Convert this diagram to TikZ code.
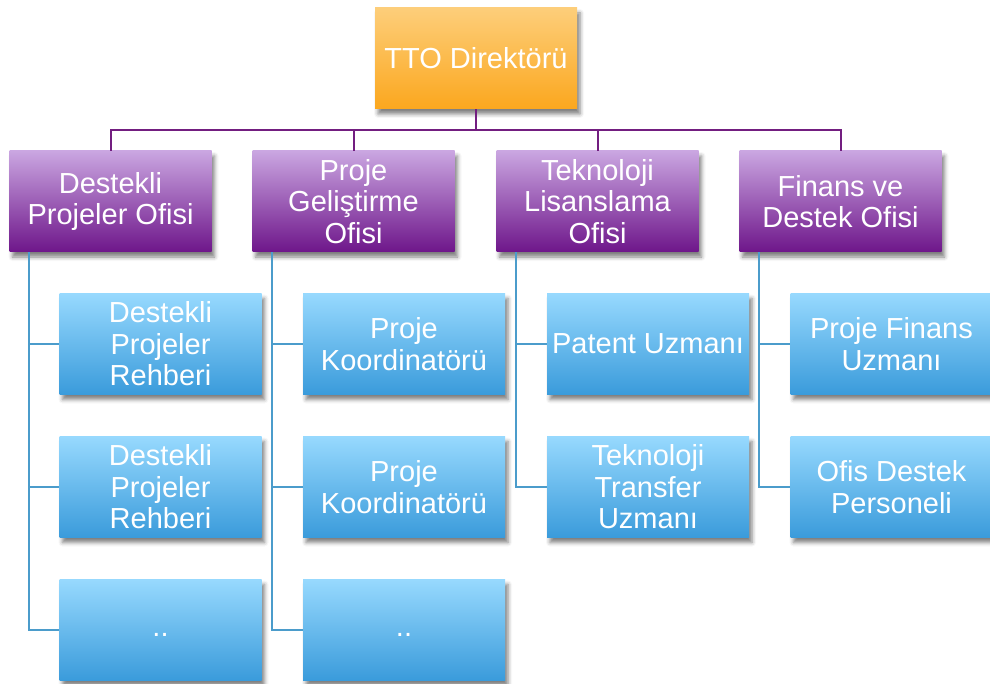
\documentclass[tikz,border=0pt]{standalone}
\usepackage{fontspec}
\setmainfont{Liberation Sans}
\usetikzlibrary{shadows.blur}
\definecolor{oTop}{HTML}{FDCE7A}
\definecolor{oBot}{HTML}{FBA71E}
\definecolor{pTop}{HTML}{CAA6E1}
\definecolor{pBot}{HTML}{6E168A}
\definecolor{bTop}{HTML}{97D9FE}
\definecolor{bBot}{HTML}{3A9BDB}
\definecolor{pLine}{HTML}{731E80}
\definecolor{bLine}{HTML}{4B9CCB}
\begin{document}
\begin{tikzpicture}[x=1pt,y=-1pt,
  box/.style={rectangle, minimum width=202pt, minimum height=101pt, inner sep=0pt,
    align=center, text=white, font=\fontsize{29}{31.5}\selectfont,
    blur shadow={shadow xshift=3pt, shadow yshift=-5pt, shadow blur radius=4pt, shadow opacity=50}},
  topbox/.style={box, top color=oTop, bottom color=oBot},
  offbox/.style={box, top color=pTop, bottom color=pBot},
  staffbox/.style={box, top color=bTop, bottom color=bBot},
  pline/.style={draw=pLine, line width=2pt},
  bline/.style={draw=bLine, line width=2pt}]
\clip (0,0) rectangle (990,684);
% top
\node[topbox] (tto) at (476,58.5) {TTO Direktörü};
% offices
\node[offbox] (b1) at (110.5,201.5) {Destekli\\Projeler Ofisi};
\node[offbox] (b2) at (353.5,201.5) {Proje\\Geliştirme\\Ofisi};
\node[offbox] (b3) at (597.5,201.5) {Teknoloji\\Lisanslama\\Ofisi};
\node[offbox] (b4) at (840.5,201.5) {Finans ve\\Destek Ofisi};
% staff
\node[staffbox] (c11) at (160.5,344) {Destekli\\Projeler\\Rehberi};
\node[staffbox] (c12) at (160.5,487) {Destekli\\Projeler\\Rehberi};
\node[staffbox] (c13) at (160.5,630) {\vphantom{Ag}..};
\node[staffbox] (c21) at (404,344) {Proje\\Koordinatörü};
\node[staffbox] (c22) at (404,487) {Proje\\Koordinatörü};
\node[staffbox] (c23) at (404,630) {\vphantom{Ag}..};
\node[staffbox] (c31) at (648,344) {Patent Uzmanı};
\node[staffbox] (c32) at (648,487) {Teknoloji\\Transfer\\Uzmanı};
\node[staffbox] (c41) at (891.5,344) {Proje Finans\\Uzmanı};
\node[staffbox] (c42) at (891.5,487) {Ofis Destek\\Personeli};
% purple connectors
\draw[pline] (tto.south) -- ++(0,21);
\draw[pline] (b1.north) -- ++(0,-21) -| (b4.north);
\draw[pline] (b2.north) -- ++(0,-21);
\draw[pline] (b3.north) -- ++(0,-21);
% blue connectors
\coordinate (v1) at ([xshift=20pt]b1.south west);
\coordinate (v2) at ([xshift=20pt]b2.south west);
\coordinate (v3) at ([xshift=20pt]b3.south west);
\coordinate (v4) at ([xshift=20pt]b4.south west);
\draw[bline] (v1) |- (c13.west);
\draw[bline] (v1 |- c11.west) -- (c11.west);
\draw[bline] (v1 |- c12.west) -- (c12.west);
\draw[bline] (v2) |- (c23.west);
\draw[bline] (v2 |- c21.west) -- (c21.west);
\draw[bline] (v2 |- c22.west) -- (c22.west);
\draw[bline] (v3) |- (c32.west);
\draw[bline] (v3 |- c31.west) -- (c31.west);
\draw[bline] (v4) |- (c42.west);
\draw[bline] (v4 |- c41.west) -- (c41.west);
\end{tikzpicture}
\end{document}
